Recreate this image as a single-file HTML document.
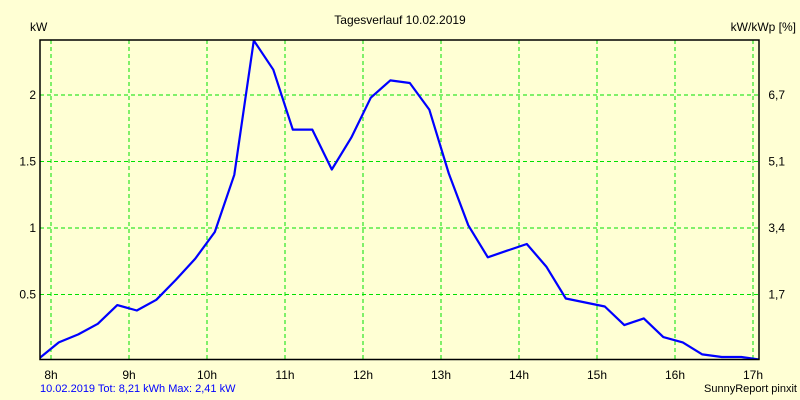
<!DOCTYPE html>
<html><head><meta charset="utf-8"><style>
body{margin:0;background:#FFFFD4;}
svg{display:block;font-family:"Liberation Sans",sans-serif;}
</style></head><body>
<svg id="chart" width="800" height="400">
<rect width="800" height="400" fill="#FFFFD4"/>
<text x="400" y="24" font-size="12" text-anchor="middle">Tagesverlauf 10.02.2019</text>
<text x="30" y="31" font-size="12">kW</text>
<text x="796" y="31" font-size="12" text-anchor="end">kW/kWp [%]</text>
<g id="grid"></g>
<clipPath id="clip"><rect x="40" y="40" width="719" height="320"/></clipPath>
<g id="series" clip-path="url(#clip)"></g>
<path d="M40 40 H759 V359.5 H40 Z" fill="none" stroke="#000" stroke-width="1.5"/>
<g id="labels"></g>
<text x="40" y="392" font-size="11" fill="#0000ff">10.02.2019 Tot: 8,21 kWh Max: 2,41 kW</text>
<text x="797" y="392" font-size="11" text-anchor="end">SunnyReport pinxit</text>
</svg>
<script>
const hours=[8,9,10,11,12,13,14,15,16,17];
const yTicks=[0.5,1,1.5,2];
const yTickLabels=["0.5","1","1.5","2"];
const rightTickLabels=["1,7","3,4","5,1","6,7"];
const startTime=7.85, stepTime=0.25;
const power=[0.02,0.14,0.2,0.28,0.42,0.38,0.46,0.61,0.77,0.97,1.4,2.41,2.19,1.74,1.74,1.44,1.68,1.98,2.11,2.09,1.89,1.41,1.02,0.78,0.83,0.88,0.71,0.47,0.44,0.41,0.27,0.32,0.18,0.14,0.05,0.03,0.03,0.01];
const NS="http://www.w3.org/2000/svg";
const xS=h=>51+(h-8)*78;
const yS=v=>361-v*133;
const grid=document.getElementById('grid'),labels=document.getElementById('labels'),series=document.getElementById('series');
function mk(tag,attrs,parent){const e=document.createElementNS(NS,tag);for(const k in attrs)e.setAttribute(k,attrs[k]);parent.appendChild(e);return e;}
hours.forEach(h=>{
 const l=mk('line',{x1:xS(h),x2:xS(h),y1:40,y2:359,stroke:'#00e000','stroke-dasharray':'4,3'},grid);
 
 
 const t=mk('text',{x:xS(h),y:379,'font-size':12,'text-anchor':'middle'},labels);
 t.textContent=h+'h';
 
 
});
yTicks.forEach((v,i)=>{
 const l=mk('line',{x1:40,x2:759,y1:yS(v),y2:yS(v),stroke:'#00e000','stroke-dasharray':'4,3'},grid);
 
 
 const t=mk('text',{x:36,y:yS(v)+4,'font-size':12,'text-anchor':'end'},labels);
 t.textContent=yTickLabels[i];
 
 
 const r=mk('text',{x:785,y:yS(v)+4,'font-size':12,'text-anchor':'end'},labels);
 r.textContent=rightTickLabels[i];
 
 
});
const pts=power.map((v,i)=>xS(startTime+i*stepTime).toFixed(1)+','+yS(v).toFixed(1)).join(' ');
const pl=mk('polyline',{points:pts,fill:'none',stroke:'#0000ff','stroke-width':2.2,'stroke-linejoin':'round'},series);


</script>
</body></html>
